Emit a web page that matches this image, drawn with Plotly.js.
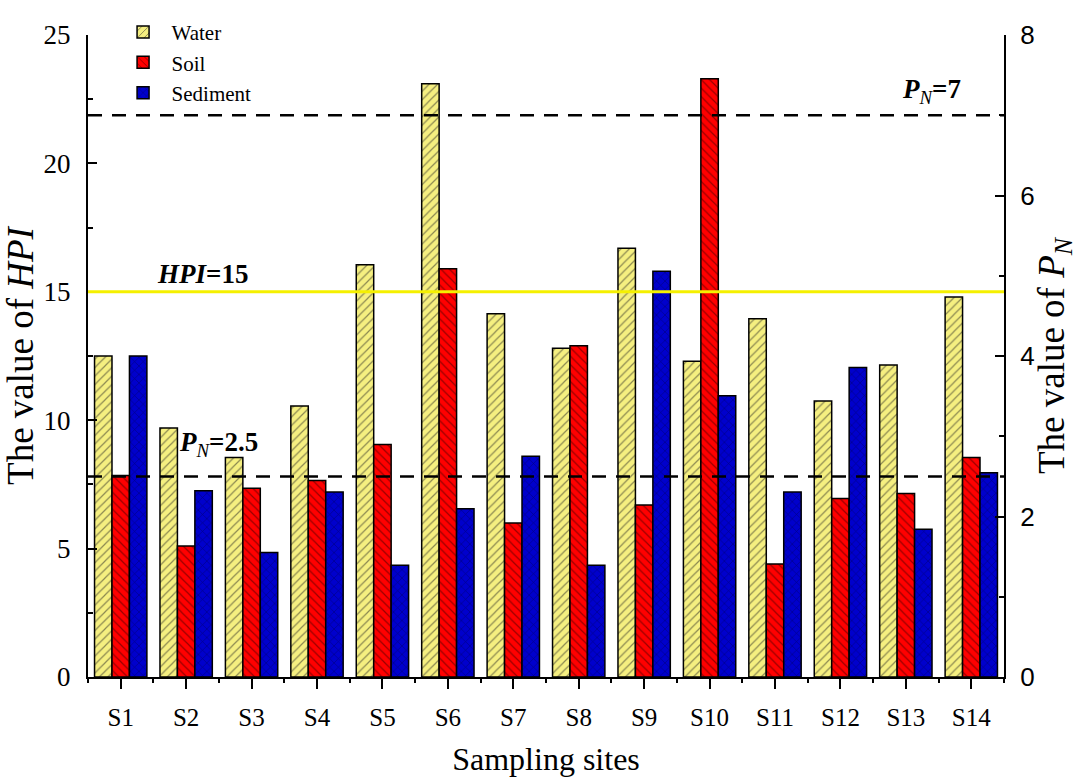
<!DOCTYPE html>
<html>
<head>
<meta charset="utf-8">
<script src="https://cdn.plot.ly/plotly-3.0.1.min.js"></script>
<style>html,body{margin:0;padding:0;background:#fff;}#chart{width:1078px;height:778px;}</style>
</head>
<body>
<div id="chart"></div>
<script>
const sites = ['S1','S2','S3','S4','S5','S6','S7','S8','S9','S10','S11','S12','S13','S14'];
const water = [12.5, 9.7, 8.55, 10.55, 16.05, 23.1, 14.15, 12.8, 16.7, 12.3, 13.95, 10.75, 12.15, 14.8];
const soil = [7.85, 5.1, 7.35, 7.65, 9.05, 15.9, 6.0, 12.9, 6.7, 23.3, 4.4, 6.95, 7.15, 8.55];
const sediment = [12.5, 7.25, 4.85, 7.2, 4.35, 6.55, 8.6, 4.35, 15.8, 10.95, 7.2, 12.05, 5.75, 7.95];
const hpiLimit = 15;
const pnLimits = [2.5, 7];

const serif = 'Liberation Serif, Times New Roman, serif';
const sans = 'Liberation Sans, Arial, sans-serif';

function barTrace(name, y, color, shape, fg) {
  return {
    type: 'bar', name: name, x: sites, y: y,
    marker: {
      color: color,
      line: {color: '#000', width: 1.5},
      pattern: {shape: shape, fgcolor: fg, bgcolor: color, size: 6, solidity: 0.2, fillmode: 'overlay'}
    },
    hoverinfo: 'x+y'
  };
}

const traces = [
  barTrace('Water', water, '#f5ef80', '/', '#222'),
  barTrace('Soil', soil, '#ff0000', '\\', '#300'),
  barTrace('Sediment', sediment, '#0000cc', 'x', '#000040'),
  {type: 'scatter', x: sites, y: sites.map(() => null), xaxis: 'x2', yaxis: 'y2', showlegend: false, hoverinfo: 'skip', mode: 'lines'}
];

const shapes = [
  {type: 'line', xref: 'paper', x0: 0, x1: 1, yref: 'y', y0: hpiLimit, y1: hpiLimit, layer: 'above',
   line: {color: '#f5f000', width: 3}}
].concat(pnLimits.map(v => ({
  type: 'line', xref: 'paper', x0: 0, x1: 1, yref: 'y2', y0: v, y1: v, layer: 'above',
  line: {color: '#000', width: 2.5, dash: '14px,10px'}
})));

const annotations = [
  {xref: 'paper', yref: 'y', x: 0.073, y: hpiLimit, xanchor: 'left', yanchor: 'bottom', yshift: 1, showarrow: false,
   text: '<b><i>HPI</i>=15</b>', font: {family: serif, size: 27, color: '#000'}},
  {xref: 'paper', yref: 'y2', x: 0.097, y: pnLimits[0], xanchor: 'left', yanchor: 'bottom', yshift: 13, showarrow: false,
   text: '<b><i>P</i></b><sub><i>N</i></sub><b>=2.5</b>', font: {family: serif, size: 27, color: '#000'}},
  {xref: 'paper', yref: 'y2', x: 0.955, y: pnLimits[1], xanchor: 'right', yanchor: 'bottom', yshift: 5, showarrow: false,
   text: '<b><i>P</i></b><sub><i>N</i></sub><b>=7</b>', font: {family: serif, size: 27, color: '#000'}}
];

const layout = {
  width: 1078, height: 778,
  margin: {l: 88, r: 74, t: 32, b: 101},
  paper_bgcolor: '#fff', plot_bgcolor: '#fff',
  barmode: 'group', bargap: 0.2, bargroupgap: 0,
  showlegend: true,
  legend: {x: 0.029, y: 1.036, xanchor: 'left', yanchor: 'top', bgcolor: 'rgba(0,0,0,0)',
           font: {family: serif, size: 21, color: '#000'}, tracegroupgap: 0, itemwidth: 47},
  xaxis: {
    type: 'category', categoryorder: 'array', categoryarray: sites, range: [-0.5, 13.5],
    showline: true, linecolor: '#000', linewidth: 2, showgrid: false, zeroline: false,
    ticks: 'outside', ticklen: 10, tickwidth: 2, tickcolor: '#000', ticklabelstandoff: 7,
    tickfont: {family: serif, size: 25, color: '#000'},
    title: {text: 'Sampling sites', font: {family: serif, size: 32, color: '#000'}, standoff: 18}
  },
  xaxis2: {
    type: 'category', categoryorder: 'array', categoryarray: sites, range: [-0.5, 13.5],
    overlaying: 'x', anchor: 'y', side: 'bottom', tickson: 'boundaries',
    showline: false, showgrid: false, zeroline: false, showticklabels: false,
    ticks: 'outside', ticklen: 5, tickwidth: 2, tickcolor: '#000'
  },
  yaxis: {
    range: [0, 25], dtick: 5, tick0: 0,
    showline: true, linecolor: '#000', linewidth: 2, showgrid: false, zeroline: false,
    ticks: 'inside', ticklen: 9, tickwidth: 2, tickcolor: '#000', ticklabelstandoff: 10,
    minor: {dtick: 2.5, ticks: 'inside', ticklen: 5, tickwidth: 2, tickcolor: '#000', showgrid: false},
    tickfont: {family: serif, size: 27, color: '#000'},
    title: {text: 'The value of <i>HPI</i>', font: {family: serif, size: 37, color: '#000'}, standoff: 10}
  },
  yaxis2: {
    range: [0, 8], dtick: 2, tick0: 0, overlaying: 'y', side: 'right', anchor: 'x',
    showline: true, linecolor: '#000', linewidth: 2, showgrid: false, zeroline: false,
    ticks: 'inside', ticklen: 9, tickwidth: 2, tickcolor: '#000', ticklabelstandoff: 9,
    minor: {dtick: 1, ticks: 'inside', ticklen: 5, tickwidth: 2, tickcolor: '#000', showgrid: false},
    tickfont: {family: sans, size: 26, color: '#000'},
    title: {text: 'The value of <i>P</i><sub><i>N</i></sub>', font: {family: serif, size: 37, color: '#000'}, standoff: 8}
  },
  shapes: shapes,
  annotations: annotations
};

Plotly.newPlot('chart', traces, layout, {displayModeBar: false, responsive: false});
</script>
</body>
</html>
